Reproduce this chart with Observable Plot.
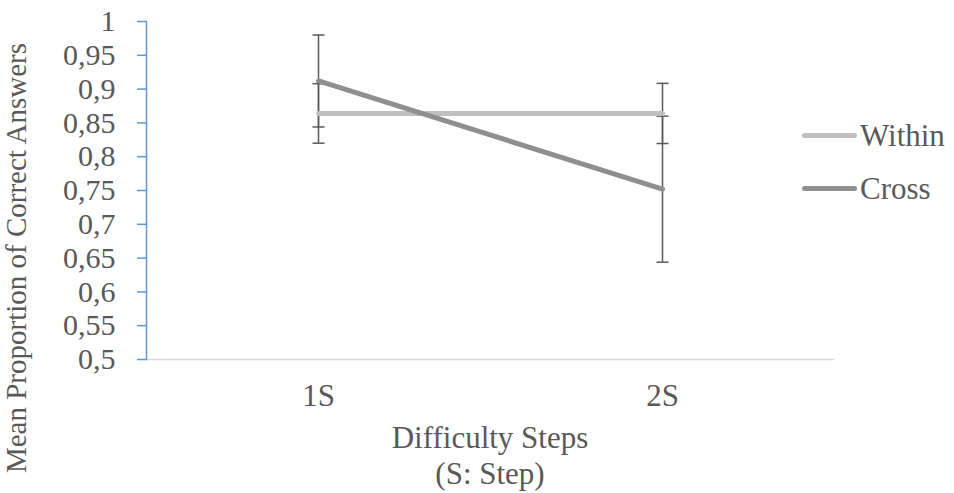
<!DOCTYPE html>
<html>
<head>
<meta charset="utf-8">
<script src="https://cdn.jsdelivr.net/npm/d3@7"></script>
<script src="https://cdn.jsdelivr.net/npm/@observablehq/plot@0.6"></script>
<style>
  html, body { margin: 0; padding: 0; background: #fff; }
  #wrap { position: relative; width: 954px; height: 493px; overflow: hidden; color: #595959; }
  .lbl, svg text { font-family: "Liberation Serif", "Times New Roman", Times, "Noto Serif", "DejaVu Serif", serif !important; }
  .lbl { position: absolute; white-space: nowrap; font-size: 31px; line-height: 1; }
  .sw { position: absolute; height: 5px; border-radius: 3px; }
</style>
</head>
<body>
<div id="wrap"></div>
<script>
const categories = ["1S", "2S"];
const withinMean = [0.864, 0.864];
const withinErr = [0.044, 0.0445];
const crossMean = [0.912, 0.752];
const crossErr = [0.068, 0.108];
const yTicks = [0.5, 0.55, 0.6, 0.65, 0.7, 0.75, 0.8, 0.85, 0.9, 0.95, 1];
const seriesNames = ["Within", "Cross"];
const seriesColors = ["#bfbfbf", "#8f8f8f"];

const rows = [];
categories.forEach((c, i) => {
  rows.push({cat: c, series: "Within", v: withinMean[i], lo: withinMean[i] - withinErr[i], hi: withinMean[i] + withinErr[i]});
  rows.push({cat: c, series: "Cross", v: crossMean[i], lo: crossMean[i] - crossErr[i], hi: crossMean[i] + crossErr[i]});
});

const cap = { draw(ctx) { ctx.moveTo(-6, 0); ctx.lineTo(6, 0); } };

const chart = Plot.plot({
  width: 954,
  height: 493,
  marginLeft: 146,
  marginRight: 120,
  marginTop: 21,
  marginBottom: 134,
  style: { color: "#595959", background: "#fff" },
  x: { type: "point", domain: categories, padding: 0.5, axis: null },
  y: { domain: [0.5, 1], axis: null },
  marks: [
    Plot.ruleY([0.5], { stroke: "#d9d9d9", strokeWidth: 1.5 }),
    Plot.frame({ anchor: "left", stroke: "#5b9bd5", strokeWidth: 1.5 }),
    Plot.axisY({ ticks: yTicks, tickSize: 9, tickPadding: 22, stroke: "#5b9bd5", strokeWidth: 1.5, fontSize: 30, fill: "#595959",
      tickFormat: d => String(d).replace(".", ","), label: null }),
    Plot.axisX({ tickSize: 0, tickPadding: 24, fontSize: 31, fill: "#595959", label: null }),
    Plot.ruleX(rows, { x: "cat", y1: "lo", y2: "hi", stroke: "#595959", strokeWidth: 1.5 }),
    Plot.dot(rows, { x: "cat", y: "lo", symbol: cap, stroke: "#595959", strokeWidth: 1.5, fill: "none" }),
    Plot.dot(rows, { x: "cat", y: "hi", symbol: cap, stroke: "#595959", strokeWidth: 1.5, fill: "none" }),
    Plot.line(rows.filter(d => d.series === "Within"), { x: "cat", y: "v", stroke: seriesColors[0], strokeWidth: 5, strokeLinecap: "round" }),
    Plot.line(rows.filter(d => d.series === "Cross"), { x: "cat", y: "v", stroke: seriesColors[1], strokeWidth: 5, strokeLinecap: "round" })
  ]
});

const wrap = document.getElementById("wrap");
wrap.appendChild(chart);

function addLabel(text, left, top, extra) {
  const d = document.createElement("div");
  d.className = "lbl";
  d.textContent = text;
  d.style.left = left + "px";
  d.style.top = top + "px";
  if (extra) Object.assign(d.style, extra);
  wrap.appendChild(d);
  return d;
}
addLabel("Difficulty Steps", 490, 422, { transform: "translateX(-50%)" });
addLabel("(S: Step)", 490, 458, { transform: "translateX(-50%)" });
addLabel("Mean Proportion of Correct Answers", 16, 258, { fontSize: "29px", transform: "translate(0,-50%) rotate(-90deg) translate(-50%,0)", transformOrigin: "0 50%" });

const legendY = [135, 188];
seriesNames.forEach((name, i) => {
  const s = document.createElement("div");
  s.className = "sw";
  s.style.left = "802px";
  s.style.width = "55px";
  s.style.top = (legendY[i] - 2.5) + "px";
  s.style.background = seriesColors[i];
  wrap.appendChild(s);
  addLabel(name, 860, legendY[i] - 15);
});
</script>
</body>
</html>
